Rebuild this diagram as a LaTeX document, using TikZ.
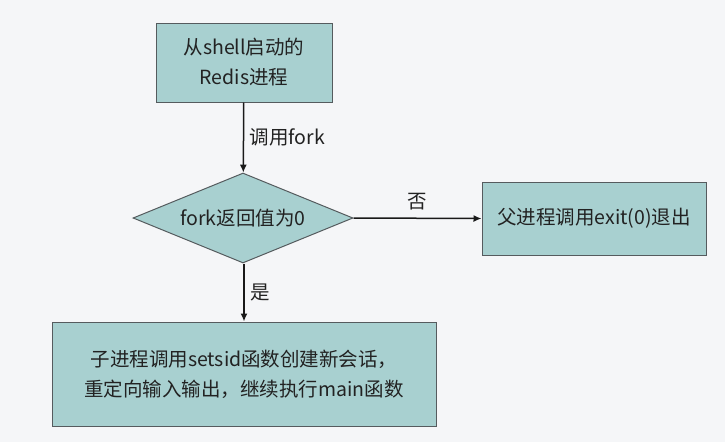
\documentclass[tikz,border=0pt]{standalone}
\usepackage{fontspec}
\newfontfamily\cjk{Noto Sans CJK SC}
\usepackage{xcolor}
\usepackage{tikz}
\usetikzlibrary{shapes.geometric}
\usetikzlibrary{arrows.meta}
\usetikzlibrary{positioning}

\definecolor{sfondo}{HTML}{F5F6F8}
\definecolor{riempi}{HTML}{A8D0D0}
\definecolor{bordo}{HTML}{555B5E}
\definecolor{testo}{HTML}{222222}

\begin{document}
\begin{tikzpicture}[
    x=1pt, y=-1pt,
    every node/.style={font=\cjk\fontsize{19.5}{30}\selectfont, text=testo},
    box/.style={rectangle, draw=bordo, fill=riempi, line width=1pt, inner sep=0pt, align=center},
    decision/.style={diamond, draw=bordo, fill=riempi, line width=1pt, inner sep=0pt, aspect=2.44},
    flow/.style={-{Latex[length=8pt, width=7pt]}, line width=1.5pt, black!90}
]

    % Sfondo e bounding box
    \fill[sfondo] (0,0) rectangle (725,442);
    \useasboundingbox (0,0) rectangle (725,442);

    % Coordinate dei centri
    \coordinate (cStart) at (244,62.5);
    \coordinate (cFork) at (243,218);
    \coordinate (cParent) at (594,218.5);
    \coordinate (cChild) at (244,374);

    % 1. Nodi
    \node[box, minimum width=176pt, minimum height=79pt] (start) at (cStart) {从shell启动的\\Redis进程};
    \node[decision, minimum width=220pt, minimum height=90pt] (fork) at (cFork) {fork返回值为0};
    \node[box, minimum width=224pt, minimum height=73pt] (parent) at (cParent) {父进程调用exit(0)退出};
    \node[box, minimum width=384pt, minimum height=104pt] (child) at (cChild) {子进程调用setsid函数创建新会话，\\重定向输入输出，继续执行main函数};

    % 2. Frecce
    \draw[flow] (start) -- (fork) node[midway, right=2pt] {调用fork};
    \draw[flow] (fork.east) -- (parent.west) node[midway, above=4pt] {否};
    \draw[flow] (fork.south -| start.south) -- (child.north -| start.south) node[midway, right=2pt] {是};

\end{tikzpicture}
\end{document}
